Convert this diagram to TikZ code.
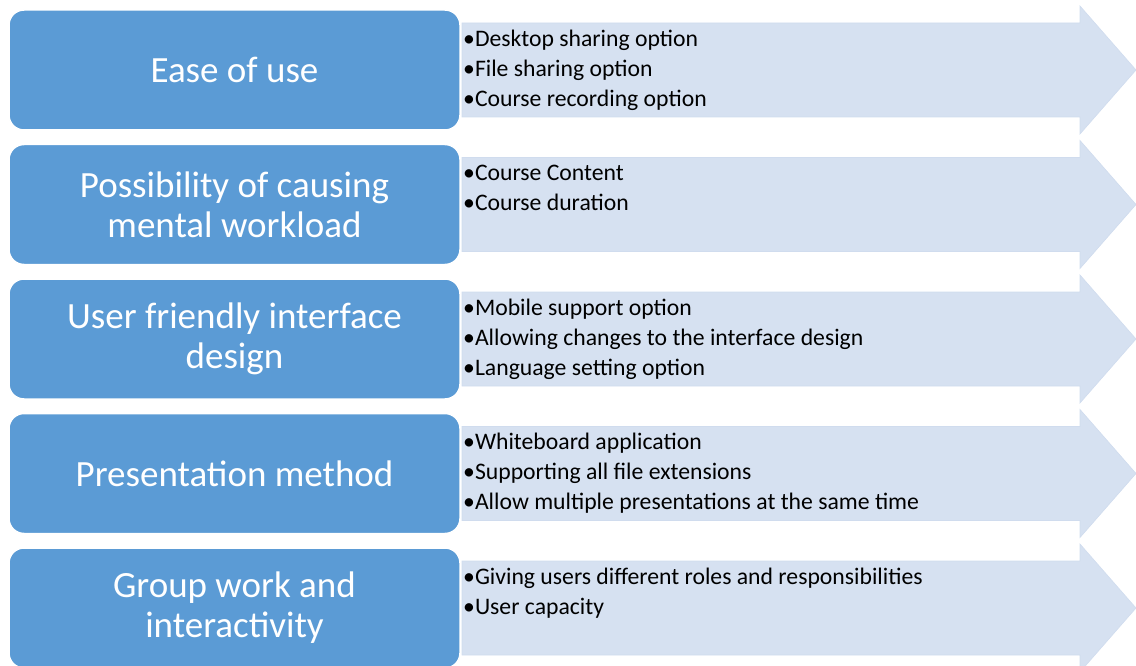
\documentclass[tikz,border=0pt]{standalone}
\usepackage{fontspec}
\setmainfont{Carlito}

\definecolor{boxblue}{HTML}{5B9BD5}
\definecolor{bandfill}{HTML}{D6E1F1}
\definecolor{bandedge}{HTML}{D0DCEE}

% wide arrow behind the bullet list, centred on row #1
\newcommand{\bandarrow}[1]{%
  \draw[band] (462,#1-47) -- (1080,#1-47) -- (1080,#1-64) -- (1136,#1)
    -- (1080,#1+64) -- (1080,#1+47) -- (462,#1+47) -- cycle;}

\begin{document}
\begin{tikzpicture}[x=1pt,y=-1pt,
    topic/.style={rectangle, rounded corners=15pt, draw=white, line width=1.5pt,
      fill=boxblue, text=white, minimum width=451pt, minimum height=120pt,
      align=center, font=\fontsize{37}{40}\selectfont},
    items/.style={anchor=north west, inner sep=0pt, align=left,
      font=\fontsize{23.7}{30}\selectfont},
    band/.style={fill=bandfill, draw=bandedge, line width=0.6pt}]
    \useasboundingbox (0,0) rectangle (1136,666);

    % Ease of use
    \bandarrow{70}
    \node[topic] (ease) at (234.5,70) {Ease of use};
    \node[items] (easelist) at (463,25) {\strut•Desktop sharing option\\•File sharing option\\•Course recording option};

    % Mental workload
    \bandarrow{204.5}
    \node[topic] (workload) at (234.5,204.5) {Possibility of causing\\mental workload};
    \node[items] (workloadlist) at (463,159.5) {\strut•Course Content\\•Course duration};

    % Interface design
    \bandarrow{339}
    \node[topic] (interface) at (234.5,339) {User friendly interface\\design};
    \node[items] (interfacelist) at (463,294) {\strut•Mobile support option\\•Allowing changes to the interface design\\•Language setting option};

    % Presentation
    \bandarrow{473.5}
    \node[topic] (presentation) at (234.5,473.5) {Presentation method};
    \node[items] (presentationlist) at (463,428.5) {\strut•Whiteboard application\\•Supporting all file extensions\\•Allow multiple presentations at the same time};

    % Group work
    \bandarrow{608}
    \node[topic] (groupwork) at (234.5,608) {Group work and\\interactivity};
    \node[items] (groupworklist) at (463,563) {\strut•Giving users different roles and responsibilities\\•User capacity};
\end{tikzpicture}
\end{document}
